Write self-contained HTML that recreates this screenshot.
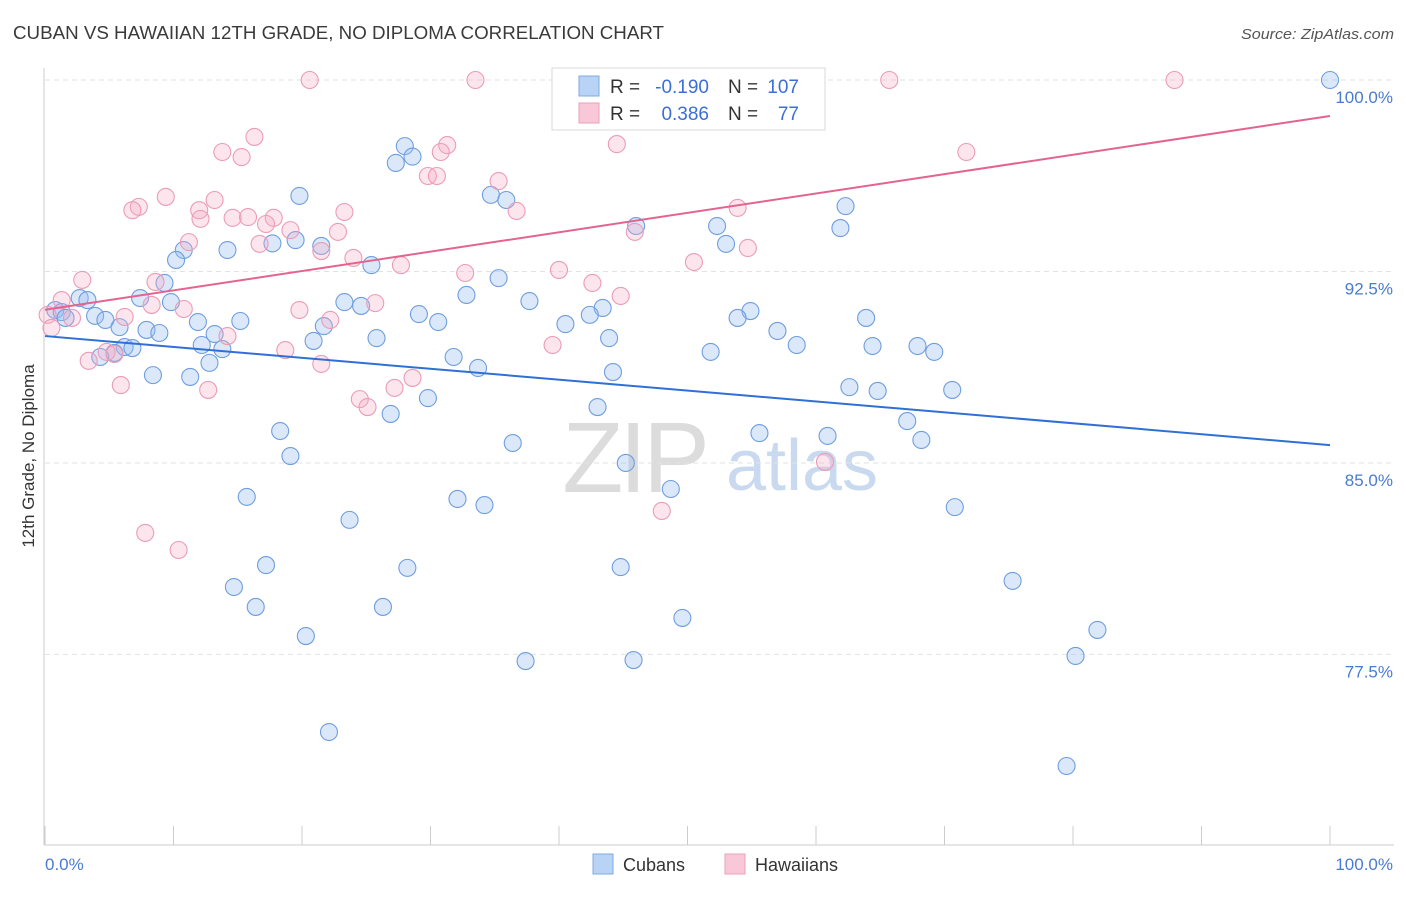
<!DOCTYPE html>
<html><head><meta charset="utf-8"><style>
body{margin:0;background:#fff;font-family:"Liberation Sans",sans-serif;}
svg text{font-family:"Liberation Sans",sans-serif;}
</style></head><body>
<svg id="chart" width="1406" height="892" xmlns="http://www.w3.org/2000/svg">
<text x="13" y="39" font-size="18" fill="#3a3a3a" textLength="651" lengthAdjust="spacingAndGlyphs">CUBAN VS HAWAIIAN 12TH GRADE, NO DIPLOMA CORRELATION CHART</text>
<text x="1241" y="39" font-size="15" fill="#555" font-style="italic" textLength="153" lengthAdjust="spacingAndGlyphs">Source: ZipAtlas.com</text>
<g>
<text x="634" y="492" font-size="100" fill="#dcdcdc" text-anchor="middle" font-family="Liberation Serif" letter-spacing="-4">ZIP</text>
<text x="802" y="490" font-size="72" fill="#c9daf0" text-anchor="middle">atlas</text>
</g>
<g id="grid"></g>
<g id="axes"></g>
<g id="pts"></g>
<g id="lines"></g>
<text transform="translate(34,456) rotate(-90)" font-size="17" fill="#333" text-anchor="middle">12th Grade, No Diploma</text>
<g>
<rect x="552" y="68" width="273" height="62" fill="#fff" stroke="#d8d8d8"/>
<rect x="579" y="76" width="20" height="20" fill="#b8d3f5" stroke="#7fa8e0"/>
<rect x="579" y="103" width="20" height="20" fill="#f9c8d8" stroke="#eaa0b8"/>
<text x="610" y="93" font-size="19" fill="#333">R =</text>
<text x="709" y="93" font-size="19" fill="#3a6fd8" text-anchor="end">-0.190</text>
<text x="728" y="93" font-size="19" fill="#333">N =</text>
<text x="799" y="93" font-size="19" fill="#3a6fd8" text-anchor="end">107</text>
<text x="610" y="120" font-size="19" fill="#333">R =</text>
<text x="709" y="120" font-size="19" fill="#3a6fd8" text-anchor="end">0.386</text>
<text x="728" y="120" font-size="19" fill="#333">N =</text>
<text x="799" y="120" font-size="19" fill="#3a6fd8" text-anchor="end">77</text>
</g>
<g>
<rect x="593" y="854" width="20" height="20" fill="#b8d3f5" stroke="#7fa8e0"/>
<text x="623" y="871" font-size="18" fill="#333">Cubans</text>
<rect x="725" y="854" width="20" height="20" fill="#f9c8d8" stroke="#eaa0b8"/>
<text x="755" y="871" font-size="18" fill="#333">Hawaiians</text>
</g>
</svg>
<script>
const yTicks=[100,92.5,85,77.5];
const yTickLabels=["100.0%","92.5%","85.0%","77.5%"];
const xTickLabels=["0.0%","100.0%"];
const cubanX=[100,28.0,27.3,28.6,19.8,34.7,35.9,62.3,61.9,46.0,52.3,53.0,19.5,17.7,21.5,10.8,14.2,10.2,25.4,35.3,9.3,32.8,7.4,2.7,3.3,9.8,23.3,37.7,24.6,0.8,1.3,43.4,54.9,3.9,1.6,4.7,29.1,42.4,53.9,63.9,11.9,15.2,30.6,40.5,5.8,21.7,7.9,57.0,8.9,13.2,43.9,25.8,20.9,12.2,58.5,64.4,67.9,6.2,6.8,13.8,69.2,51.8,5.4,4.3,31.8,12.8,33.7,44.2,8.4,11.3,62.6,64.8,70.6,29.8,43.0,26.9,67.1,18.3,55.6,60.9,68.2,36.4,19.1,45.2,48.7,15.7,32.1,34.2,70.8,23.7,17.2,28.2,44.8,14.7,75.3,16.4,26.3,49.6,20.3,81.9,80.2,37.4,45.8,22.1,79.5];
const cubanY=[100,97.41,96.75,97.0,95.46,95.5,95.3,95.06,94.2,94.28,94.28,93.58,93.73,93.6,93.5,93.34,93.34,92.95,92.75,92.24,92.05,91.58,91.46,91.46,91.38,91.3,91.3,91.34,91.15,90.99,90.91,91.07,90.95,90.76,90.68,90.6,90.83,90.8,90.68,90.68,90.52,90.56,90.52,90.44,90.32,90.36,90.21,90.17,90.09,90.05,89.89,89.89,89.78,89.62,89.62,89.58,89.58,89.54,89.5,89.46,89.35,89.35,89.31,89.15,89.15,88.92,88.72,88.56,88.44,88.37,87.97,87.82,87.86,87.54,87.19,86.92,86.64,86.25,86.17,86.06,85.9,85.78,85.27,85.0,83.98,83.67,83.59,83.35,83.27,82.77,81.0,80.89,80.92,80.14,80.38,79.36,79.36,78.93,78.22,78.46,77.44,77.24,77.28,74.46,73.13];
const hawX=[20.6,33.5,65.7,87.9,49.6,16.3,44.5,31.3,30.8,13.8,15.3,71.7,29.8,30.5,35.3,9.4,13.2,7.3,6.8,12.0,53.9,36.7,23.3,12.1,14.6,15.8,17.8,17.2,19.1,22.8,45.9,11.2,16.7,21.5,54.7,24.0,50.5,27.7,40.0,32.7,2.9,42.6,8.6,44.8,1.3,25.7,8.3,10.8,19.8,0.2,2.1,6.2,22.2,0.5,14.2,39.5,18.7,4.8,5.4,3.4,21.5,28.6,5.9,12.7,27.2,24.5,25.1,60.7,48.0,7.8,10.4];
const hawY=[100,100,100,100,98.75,97.77,97.49,97.45,97.18,97.18,96.98,97.18,96.24,96.24,96.04,95.42,95.3,95.03,94.9,94.9,94.99,94.87,94.83,94.56,94.6,94.63,94.6,94.36,94.12,94.05,94.05,93.65,93.58,93.3,93.42,93.03,92.87,92.75,92.56,92.44,92.17,92.05,92.09,91.54,91.38,91.26,91.19,91.03,90.99,90.8,90.68,90.72,90.6,90.29,89.97,89.62,89.42,89.35,89.27,89.0,88.88,88.33,88.05,87.86,87.94,87.5,87.19,85.04,83.12,82.26,81.59];
const cubanTrend=[89.97,85.7];
const hawTrend=[91.0,98.59];
const NS="http://www.w3.org/2000/svg";
const xs=v=>45+v*12.85;
const ys=v=>80+(100-v)*25.53;
function mk(tag,attrs,parent){const e=document.createElementNS(NS,tag);for(const k in attrs)e.setAttribute(k,attrs[k]);document.getElementById(parent).appendChild(e);return e;}
yTicks.forEach((t,i)=>{
 const g=mk('line',{x1:45,x2:1394,y1:ys(t),y2:ys(t),stroke:'#e2e2e2','stroke-dasharray':'5,4'},'grid');
 
 
 const l=mk('text',{x:1393,y:ys(t)+23,'font-size':17,fill:'#4a7bd0','text-anchor':'end'},'grid');
 l.textContent=yTickLabels[i];
 
 
});
const ax=mk('line',{x1:44,x2:44,y1:68,y2:845,stroke:'#ccc'},'axes');


const bx=mk('line',{x1:44,x2:1394,y1:845,y2:845,stroke:'#ccc'},'axes');


for(let i=0;i<=10;i++){
 const t=mk('line',{x1:xs(i*10),x2:xs(i*10),y1:826,y2:845,stroke:'#ccc'},'axes');
 
 
}
[[0,'start'],[100,'end']].forEach((p,i)=>{
 const l=mk('text',{x:p[0]==0?45:1393,y:870,'font-size':17,fill:'#4a7bd0','text-anchor':p[1]},'axes');
 l.textContent=xTickLabels[i];
 
 
});
cubanX.forEach((x,i)=>{
 const c=mk('circle',{cx:xs(x),cy:ys(cubanY[i]),r:8.5,fill:'rgba(150,190,240,0.35)',stroke:'#6f9ee0','stroke-width':1.1},'pts');
 
 
});
hawX.forEach((x,i)=>{
 const c=mk('circle',{cx:xs(x),cy:ys(hawY[i]),r:8.5,fill:'rgba(245,170,195,0.3)',stroke:'#eb9cb6','stroke-width':1.1},'pts');
 
 
});
const bl=mk('line',{x1:xs(0),y1:ys(cubanTrend[0]),x2:xs(100),y2:ys(cubanTrend[1]),stroke:'#2f6fd6','stroke-width':2},'lines');


const pl=mk('line',{x1:xs(0),y1:ys(hawTrend[0]),x2:xs(100),y2:ys(hawTrend[1]),stroke:'#e4638f','stroke-width':2},'lines');


</script>
</body></html>
